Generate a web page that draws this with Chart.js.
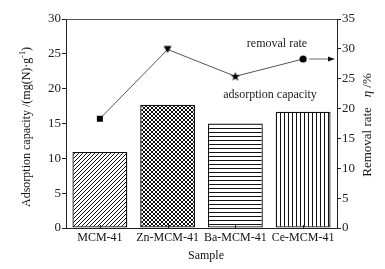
<!DOCTYPE html>
<html>
<head>
<meta charset="utf-8">
<script src="https://cdn.jsdelivr.net/npm/chart.js@4.4.0/dist/chart.umd.min.js"></script>
<style>
  html, body { margin: 0; padding: 0; background: #fff; }
  #wrap { width: 385px; height: 269px; }
</style>
</head>
<body>
<div id="wrap"><canvas id="grafico"></canvas></div>
<script>
// datos
const muestras = ['MCM-41', 'Zn-MCM-41', 'Ba-MCM-41', 'Ce-MCM-41'];
const capacidad = [10.9, 17.7, 15.0, 16.7];      // eje izquierdo, mg(N)/g
const remocion = [18.3, 29.9, 25.4, 28.3];       // eje derecho, %
const ticksIzq = [0, 5, 10, 15, 20, 25, 30];
const ticksDer = [0, 5, 10, 15, 20, 25, 30, 35];

const FUENTE = '"Liberation Serif", "DejaVu Serif", serif';

// rellenos rayados de las barras
function patron(tipo) {
    const s = 4;
    const c = document.createElement('canvas');
    c.width = s; c.height = s;
    const g = c.getContext('2d');
    g.fillStyle = '#fff';
    g.fillRect(0, 0, s, s);
    g.strokeStyle = '#111';
    g.lineWidth = 1;
    g.beginPath();
    if (tipo === 'diag' || tipo === 'cruz') {
        g.moveTo(-1, s + 1); g.lineTo(s + 1, -1);
        g.moveTo(-1, 1); g.lineTo(1, -1);
        g.moveTo(s - 1, s + 1); g.lineTo(s + 1, s - 1);
    }
    if (tipo === 'cruz') {
        g.moveTo(-1, -1); g.lineTo(s + 1, s + 1);
        g.moveTo(s - 1, -1); g.lineTo(s + 1, 1);
        g.moveTo(-1, s - 1); g.lineTo(1, s + 1);
    }
    if (tipo === 'horiz') { g.moveTo(0, 0.5); g.lineTo(s, 0.5); }
    if (tipo === 'vert') { g.moveTo(0.5, 0); g.lineTo(0.5, s); }
    g.stroke();
    return document.createElement('canvas').getContext('2d').createPattern(c, 'repeat');
}

// marcadores de la linea
function marcador(tipo) {
    const s = 10;
    const c = document.createElement('canvas');
    c.width = s; c.height = s;
    const g = c.getContext('2d');
    g.fillStyle = '#000';
    g.beginPath();
    if (tipo === 'cuadro') g.rect(2, 2, 6, 6);
    if (tipo === 'triangulo') { g.moveTo(1, 1.5); g.lineTo(9, 1.5); g.lineTo(5, 8.5); }
    if (tipo === 'estrella') {
        for (let i = 0; i < 10; i++) {
            const r = i % 2 ? 2 : 4.8;
            const a = -Math.PI / 2 + i * Math.PI / 5;
            g.lineTo(5 + r * Math.cos(a), 5.3 + r * Math.sin(a));
        }
    }
    if (tipo === 'circulo') g.arc(5, 5, 3.6, 0, Math.PI * 2);
    g.closePath();
    g.fill();
    return c;
}

function textoCompuesto(ctx, partes, cx, cy, rot) {
    ctx.save();
    ctx.translate(cx, cy);
    ctx.rotate(rot);
    ctx.textBaseline = 'middle';
    ctx.textAlign = 'left';
    let total = 0;
    partes.forEach(p => { ctx.font = p.f; total += ctx.measureText(p.t).width; });
    let x = -total / 2;
    partes.forEach(p => {
        ctx.font = p.f;
        ctx.fillText(p.t, x, p.dy || 0);
        x += ctx.measureText(p.t).width;
    });
    ctx.restore();
}

const extras = {
    id: 'extras',
    afterDraw(chart) {
        const { ctx, chartArea: a, scales } = chart;
        ctx.save();
        // marco superior
        ctx.strokeStyle = '#555';
        ctx.lineWidth = 1;
        ctx.beginPath();
        ctx.moveTo(a.left, a.top + 0.5);
        ctx.lineTo(a.right, a.top + 0.5);
        ctx.stroke();
        // marcas del eje x hacia dentro
        ctx.strokeStyle = '#222';
        muestras.forEach((m, i) => {
            const px = Math.round(scales.x.getPixelForValue(i)) + 0.5;
            ctx.beginPath();
            ctx.moveTo(px, a.bottom);
            ctx.lineTo(px, a.bottom - 3);
            ctx.stroke();
        });
        // flecha hacia el eje derecho
        const yf = scales.y1.getPixelForValue(remocion[3]);
        const x0 = scales.x.getPixelForValue(3) + 6;
        const x1 = a.right - 2;
        ctx.strokeStyle = '#666';
        ctx.beginPath();
        ctx.moveTo(x0, yf);
        ctx.lineTo(x1 - 4, yf);
        ctx.stroke();
        ctx.fillStyle = '#111';
        ctx.beginPath();
        ctx.moveTo(x1, yf);
        ctx.lineTo(x1 - 7, yf - 2.5);
        ctx.lineTo(x1 - 7, yf + 2.5);
        ctx.closePath();
        ctx.fill();
        // anotaciones
        ctx.fillStyle = '#222';
        ctx.font = '12px ' + FUENTE;
        ctx.textAlign = 'center';
        ctx.textBaseline = 'middle';
        ctx.fillText('removal rate', 277, 44);
        ctx.fillText('adsorption capacity', 270, 95);
        // titulos de ejes
        ctx.fillStyle = '#111';
        ctx.font = '12px ' + FUENTE;
        ctx.fillText('Sample', 206, 256);
        const f = '12px ' + FUENTE;
        textoCompuesto(ctx, [
            { t: 'Adsorption capacity /(mg(N)\u00b7g', f: f },
            { t: '-1', f: '8px ' + FUENTE, dy: -4 },
            { t: ')', f: f }
        ], 27, 127, -Math.PI / 2);
        textoCompuesto(ctx, [
            { t: 'Removal rate   ', f: '13px ' + FUENTE },
            { t: '\u03b7', f: 'italic 13px ' + FUENTE },
            { t: ' /%', f: '13px ' + FUENTE }
        ], 368, 125, -Math.PI / 2);
        ctx.restore();
    }
};

const ejeY = (lista, ancho, pos, max) => ({
    type: 'linear',
    position: pos,
    min: 0,
    max: max,
    afterBuildTicks: s => { s.ticks = lista.map(v => ({ value: v })); },
    afterFit: s => { s.width = ancho; },
    grid: { drawOnChartArea: false, tickLength: 4, color: '#222', tickWidth: 1 },
    border: { display: true, color: '#222', width: 1 },
    ticks: { color: '#222', padding: 1, font: { family: FUENTE, size: 13 } }
});

new Chart(document.getElementById('grafico'), {
    type: 'bar',
    data: {
        labels: muestras,
        datasets: [
            {
                type: 'line',
                data: remocion,
                yAxisID: 'y1',
                borderColor: '#555',
                borderWidth: 1,
                tension: 0,
                pointStyle: [marcador('cuadro'), marcador('triangulo'), marcador('estrella'), marcador('circulo')],
                order: 0
            },
            {
                data: capacidad,
                yAxisID: 'y',
                backgroundColor: [patron('diag'), patron('cruz'), patron('horiz'), patron('vert')],
                borderColor: '#111',
                borderWidth: 1.3,
                borderSkipped: false,
                categoryPercentage: 1,
                barPercentage: 0.81,
                order: 1
            }
        ]
    },
    options: {
        responsive: true,
        maintainAspectRatio: false,
        animation: false,
        layout: { padding: { top: 19, left: 0, right: 0, bottom: 0 } },
        plugins: { legend: { display: false }, tooltip: { enabled: false } },
        scales: {
            x: {
                type: 'category',
                afterFit: s => { s.height = 41; },
                grid: { display: false, drawTicks: false },
                border: { display: true, color: '#222', width: 1 },
                ticks: { color: '#111', padding: 3, maxRotation: 0, font: { family: FUENTE, size: 12 } }
            },
            y: ejeY(ticksIzq, 66, 'left', 30),
            y1: ejeY(ticksDer, 48, 'right', 35)
        }
    },
    plugins: [extras]
});
</script>
</body>
</html>
